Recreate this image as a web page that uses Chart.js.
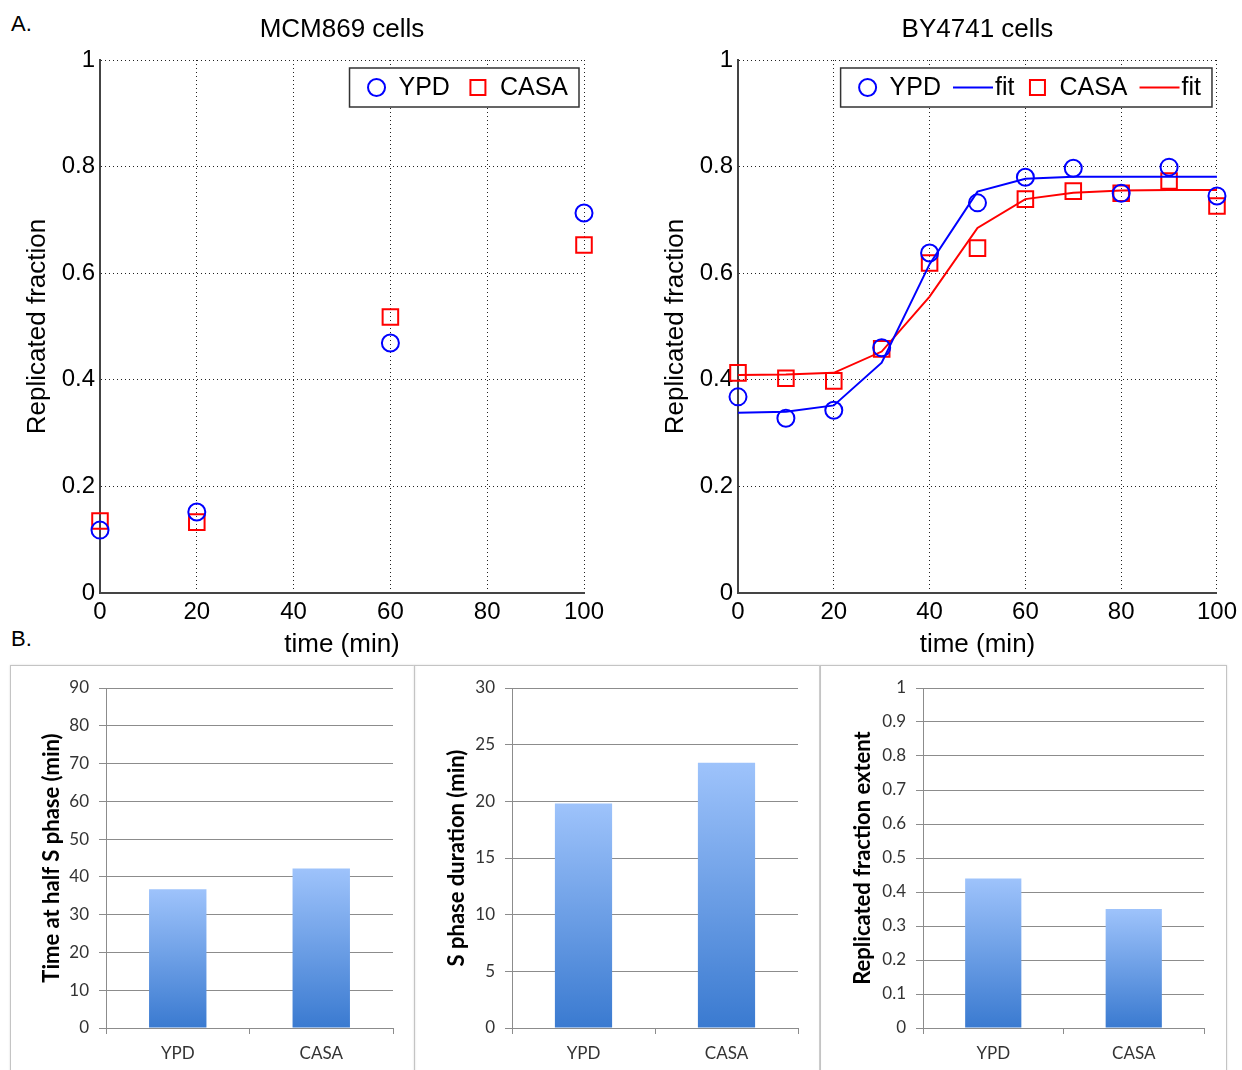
<!DOCTYPE html>
<html>
<head>
<meta charset="utf-8">
<title>Replication timing</title>
<script src="https://cdn.jsdelivr.net/npm/chart.js@4.4.1/dist/chart.umd.min.js"></script>
<style>
  body { margin: 0; width: 1242px; height: 1070px; overflow: hidden; background: #fff; position: relative; font-family: 'Liberation Sans', Arial, sans-serif; }
  canvas { position: absolute; }
  .lbl { position: absolute; font-size: 22px; color: #000; }
  .panel { position: absolute; top: 665px; height: 420px; border: 1px solid #c4c4c4; box-shadow: 0 0 2px #ddd; }
</style>
</head>
<body>
<div class="lbl" style="left:11px;top:11px">A.</div>
<div class="lbl" style="left:11px;top:626px">B.</div>
<div class="panel" style="left:10px;width:403px"></div>
<div class="panel" style="left:414px;width:404px"></div>
<div class="panel" style="left:820px;width:405px"></div>

<canvas id="mcmChart" width="620" height="660" style="left:0;top:0"></canvas>
<canvas id="byChart" width="622" height="660" style="left:620px;top:0"></canvas>
<canvas id="halfChart" width="402" height="403" style="left:11px;top:667px"></canvas>
<canvas id="durChart" width="404" height="403" style="left:415px;top:667px"></canvas>
<canvas id="extChart" width="404" height="403" style="left:821px;top:667px"></canvas>

<script>
// --- data ---
const timeMCM = [0, 20, 60, 100];
const mcmYPD = [0.118, 0.152, 0.469, 0.713];
const mcmCASA = [0.135, 0.133, 0.518, 0.653];

const timeBY = [0, 10, 20, 30, 40, 50, 60, 70, 80, 90, 100];
const byYPD = [0.368, 0.328, 0.343, 0.460, 0.638, 0.732, 0.780, 0.797, 0.750, 0.799, 0.745];
const byCASA = [0.413, 0.403, 0.398, 0.458, 0.619, 0.647, 0.739, 0.754, 0.750, 0.773, 0.726];
const fitYPD = [0.338, 0.340, 0.352, 0.432, 0.617, 0.753, 0.777, 0.781, 0.781, 0.781, 0.781];
const fitCASA = [0.409, 0.410, 0.413, 0.453, 0.556, 0.685, 0.739, 0.751, 0.755, 0.756, 0.756];

const mediums = ['YPD', 'CASA'];
const halfSPhase = [36.7, 42.2];
const sPhaseDuration = [19.8, 23.4];
const fractionExtent = [0.44, 0.35];

const yTicksFraction = ['0', '0.2', '0.4', '0.6', '0.8', '1'];
const xTicksTime = ['0', '20', '40', '60', '80', '100'];
const halfTicks = ['0', '10', '20', '30', '40', '50', '60', '70', '80', '90'];
const durTicks = ['0', '5', '10', '15', '20', '25', '30'];
const extTicks = ['0', '0.1', '0.2', '0.3', '0.4', '0.5', '0.6', '0.7', '0.8', '0.9', '1'];

const BLUE = '#0000ff';
const RED = '#ff0000';
const MATLAB_FONT = "'Liberation Sans', Arial, sans-serif";
const OFFICE_FONT = "Lato, 'Open Sans', sans-serif";

function pts(xs, ys) {
    return xs.map((x, i) => ({ x: x, y: ys[i] }));
}

// boxed legend drawn inside the plot (MATLAB style)
const boxLegend = {
    id: 'boxLegend',
    afterDraw(chart, args, opts) {
        if (!opts.show) return;
        const ctx = chart.ctx;
        const area = chart.chartArea;
        const sets = chart.data.datasets;
        ctx.save();
        ctx.font = '25px ' + MATLAB_FONT;
        let w = 16;
        sets.forEach(ds => {
            w += (ds.showLine ? 42 : 33) + ctx.measureText(ds.label).width + opts.gap;
        });
        w = w - opts.gap + 11;
        const h = 39;
        const right = area.right - 5;
        const left = right - w;
        const top = area.top + 8;
        const cy = top + h / 2;
        ctx.fillStyle = '#fff';
        ctx.fillRect(left, top, w, h);
        ctx.strokeStyle = '#333';
        ctx.lineWidth = 1.5;
        ctx.strokeRect(left, top, w, h);

        let x = left + 16;
        sets.forEach(ds => {
            ctx.strokeStyle = ds.borderColor;
            ctx.lineWidth = 2;
            if (ds.showLine) {
                ctx.beginPath();
                ctx.moveTo(x, cy);
                ctx.lineTo(x + 40, cy);
                ctx.stroke();
                x += 42;
            } else if (ds.pointStyle === 'rect') {
                ctx.strokeRect(x + 11 - 7.5, cy - 7.5, 15, 15);
                x += 33;
            } else {
                ctx.beginPath();
                ctx.arc(x + 11, cy, 8.5, 0, Math.PI * 2);
                ctx.stroke();
                x += 33;
            }
            ctx.fillStyle = '#000';
            ctx.textBaseline = 'middle';
            ctx.fillText(ds.label, x, cy + 1);
            x += ctx.measureText(ds.label).width + opts.gap;
        });
        ctx.restore();
    }
};

// bar gradient, light on top, darker at the base
function barGradient(context) {
    const chart = context.chart;
    if (!chart.chartArea) return '#6a9ee8';
    const y = chart.scales.y;
    const top = y.getPixelForValue(context.raw);
    const bottom = y.getPixelForValue(0);
    const g = chart.ctx.createLinearGradient(0, top, 0, bottom);
    g.addColorStop(0, '#9ec3fb');
    g.addColorStop(1, '#3a7ad0');
    return g;
}

function matlabChart(id, title, datasets, yWidth, padRight, yTitlePad, gap) {
    new Chart(document.getElementById(id), {
        type: 'scatter',
        data: { datasets: datasets },
        plugins: [boxLegend],
        options: {
            responsive: false,
            animation: false,
            clip: false,
            layout: { padding: { right: padRight } },
            plugins: {
                legend: { display: false },
                tooltip: { enabled: false },
                title: {
                    display: true, text: title, color: '#000', fullSize: false,
                    font: { family: MATLAB_FONT, size: 26, weight: 'normal' },
                    padding: { top: 14, bottom: 14.8 }
                },
                boxLegend: { show: true, gap: gap }
            },
            scales: {
                x: {
                    type: 'linear', min: 0, max: 100,
                    afterFit: s => { s.height = 67; },
                    ticks: {
                        stepSize: 20, color: '#000', padding: 5,
                        font: { family: MATLAB_FONT, size: 24 },
                        callback: (v, i) => xTicksTime[i]
                    },
                    grid: { color: '#222', lineWidth: 1, drawTicks: false },
                    border: { color: '#444', width: 2, dash: [1, 3] },
                    title: {
                        display: true, text: 'time (min)', color: '#000',
                        font: { family: MATLAB_FONT, size: 26 },
                        padding: { top: 0, bottom: 0 }
                    }
                },
                y: {
                    min: 0, max: 1,
                    afterFit: s => { s.width = yWidth; },
                    ticks: {
                        stepSize: 0.2, color: '#000', padding: 5,
                        font: { family: MATLAB_FONT, size: 24 },
                        callback: (v, i) => yTicksFraction[i]
                    },
                    grid: { color: '#222', lineWidth: 1, drawTicks: false },
                    border: { color: '#444', width: 2, dash: [1, 3] },
                    title: {
                        display: true, text: 'Replicated fraction', color: '#000',
                        font: { family: MATLAB_FONT, size: 26 },
                        padding: { top: yTitlePad, bottom: 0 }
                    }
                }
            }
        }
    });
}

function officeBar(id, values, yMax, step, tickLabels, yTitle, yWidth, padRight, yTitlePad) {
    new Chart(document.getElementById(id), {
        type: 'bar',
        data: {
            labels: mediums,
            datasets: [{
                data: values,
                backgroundColor: barGradient,
                borderWidth: 0,
                categoryPercentage: 1,
                barPercentage: 0.4
            }]
        },
        options: {
            responsive: false,
            animation: false,
            layout: { padding: { top: 21, right: padRight } },
            plugins: { legend: { display: false }, tooltip: { enabled: false } },
            scales: {
                x: {
                    afterFit: s => { s.height = 42; },
                    ticks: { color: '#333', padding: 9, font: { family: OFFICE_FONT, size: 17 } },
                    grid: { display: true, drawOnChartArea: false, tickLength: 6, color: '#8c8c8c' },
                    border: { color: '#8c8c8c', width: 1 }
                },
                y: {
                    min: 0, max: yMax,
                    afterFit: s => { s.width = yWidth; },
                    ticks: {
                        stepSize: step, color: '#333', padding: 10,
                        font: { family: OFFICE_FONT, size: 17 },
                        callback: (v, i) => tickLabels[i]
                    },
                    grid: { color: '#8c8c8c', lineWidth: 1, tickLength: 7 },
                    border: { color: '#8c8c8c', width: 1 },
                    title: {
                        display: true, text: yTitle, color: '#000',
                        font: { family: OFFICE_FONT, size: 22, weight: 'bold' },
                        padding: { top: yTitlePad, bottom: 0 }
                    }
                }
            }
        }
    });
}

document.addEventListener('DOMContentLoaded', function () {
    matlabChart('mcmChart', 'MCM869 cells', [
        { label: 'YPD', data: pts(timeMCM, mcmYPD), borderColor: BLUE, backgroundColor: 'transparent',
          pointStyle: 'circle', pointRadius: 8.5, borderWidth: 2, showLine: false },
        { label: 'CASA', data: pts(timeMCM, mcmCASA), borderColor: RED, backgroundColor: 'transparent',
          pointStyle: 'rect', pointRadius: 11, borderWidth: 2, showLine: false }
    ], 100, 36, 22, 17);

    matlabChart('byChart', 'BY4741 cells', [
        { label: 'YPD', data: pts(timeBY, byYPD), borderColor: BLUE, backgroundColor: 'transparent',
          pointStyle: 'circle', pointRadius: 8.5, borderWidth: 2, showLine: false },
        { label: 'fit', data: pts(timeBY, fitYPD), borderColor: BLUE, pointRadius: 0,
          borderWidth: 2, showLine: true, tension: 0 },
        { label: 'CASA', data: pts(timeBY, byCASA), borderColor: RED, backgroundColor: 'transparent',
          pointStyle: 'rect', pointRadius: 11, borderWidth: 2, showLine: false },
        { label: 'fit', data: pts(timeBY, fitCASA), borderColor: RED, pointRadius: 0,
          borderWidth: 2, showLine: true, tension: 0 }
    ], 118, 24, 40, 12);

    officeBar('halfChart', halfSPhase, 90, 10, halfTicks, 'Time at half S phase (min)', 95, 20, 28);
    officeBar('durChart', sPhaseDuration, 30, 5, durTicks, 'S phase duration (min)', 97, 21, 29);
    officeBar('extChart', fractionExtent, 1, 0.1, extTicks, 'Replicated fraction extent', 102, 21, 29);
});
</script>
</body>
</html>
